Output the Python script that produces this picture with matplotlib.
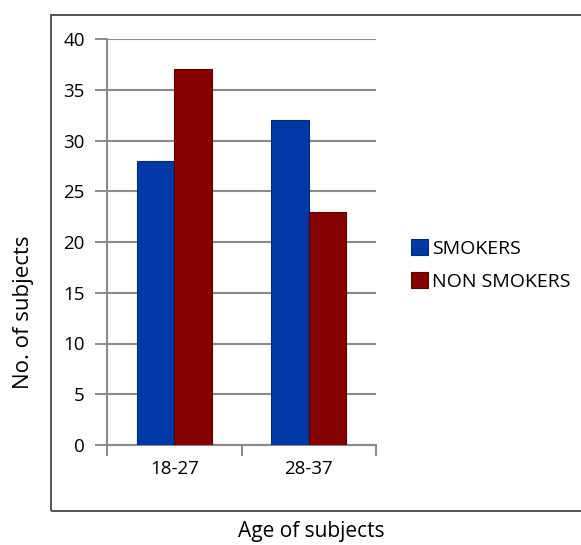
import matplotlib
matplotlib.use("Agg")
import matplotlib.pyplot as plt
from matplotlib.patches import Rectangle
import numpy as np

plt.rcParams['font.family'] = ['Open Sans', 'DejaVu Sans']

categories = ["18-27", "28-37"]
smokers = [28, 32]
non_smokers = [37, 23]
series_names = ["SMOKERS", "NON SMOKERS"]
y_ticks = [0, 5, 10, 15, 20, 25, 30, 35, 40]

W, H = 581, 545
fig = plt.figure(figsize=(W / 100, H / 100), dpi=100)

# outer frame around the chart area
fig.patches.append(Rectangle((51 / W, 1 - 511 / H), (W + 20) / W, (511 - 15) / H,
                             transform=fig.transFigure, fill=False,
                             edgecolor="#555555", linewidth=1.4, zorder=0))

ax = fig.add_axes([107 / W, 1 - 445 / H, (376 - 107) / W, (445 - 39) / H])

x = np.arange(len(categories))
bw = 0.28
grid_c = "#8a8a8a"

ax.bar(x - bw / 2, smokers, bw, color="#0039a6", edgecolor="#062a7a",
       linewidth=0.8, label=series_names[0], zorder=3)
ax.bar(x + bw / 2, non_smokers, bw, color="#850000", edgecolor="#5a0000",
       linewidth=0.8, label=series_names[1], zorder=3)

ax.set_xlim(-0.5, len(categories) - 0.5)
ax.set_ylim(0, 40)
ax.set_yticks(y_ticks)
ax.set_yticklabels([str(t) for t in y_ticks], fontsize=13.5)
ax.set_xticks(x)
ax.set_xticklabels(categories, fontsize=13.5)
ax.tick_params(axis="x", length=0, pad=11)
# category boundary tick marks
ax.set_xticks(np.arange(-0.5, len(categories)), minor=True)
ax.tick_params(axis="x", which="minor", length=8, width=1.4, color=grid_c)
ax.tick_params(axis="y", length=9, width=1.4, color=grid_c, pad=7)

ax.yaxis.grid(True, color=grid_c, linewidth=1.5, zorder=0)
ax.set_axisbelow(True)
for s in ["top", "right"]:
    ax.spines[s].set_visible(False)
for s in ["left", "bottom"]:
    ax.spines[s].set_color(grid_c)
    ax.spines[s].set_linewidth(1.5)

fig.text(311 / W, 1 - 531 / H, "Age of subjects", ha="center", va="center",
         fontsize=15)
fig.text(24 / W, 1 - 312 / H, "No. of subjects", ha="center", va="center",
         rotation=90, fontsize=16)

fig.legend(loc="center left", bbox_to_anchor=(411 / W, 1 - 265 / H),
           frameon=False, fontsize=14, handlelength=0.85, handleheight=0.85,
           handletextpad=0.25, labelspacing=0.75, borderaxespad=0, borderpad=0)

fig.savefig("out.png", dpi=100)
